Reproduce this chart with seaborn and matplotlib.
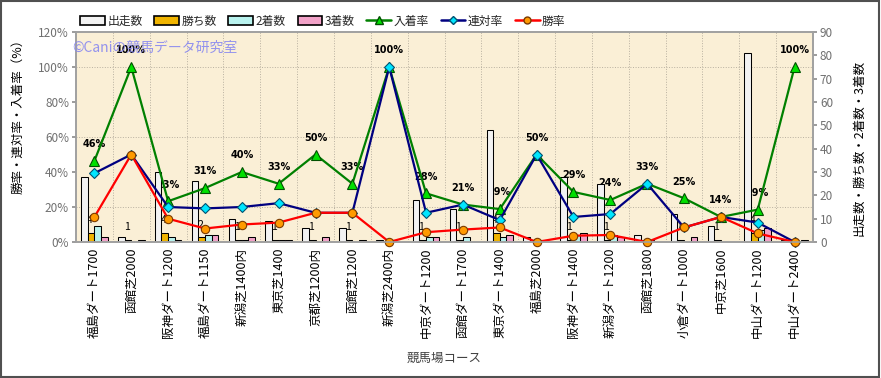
import numpy as np
import pandas as pd
import matplotlib
matplotlib.use("Agg")
import matplotlib.pyplot as plt
import seaborn as sns
from matplotlib.patches import Patch, Rectangle
from matplotlib.lines import Line2D
from matplotlib.ticker import MultipleLocator, FixedLocator

courses = ["福島ダート1700", "函館芝2000", "阪神ダート1200", "福島ダート1150", "新潟芝1400内",
           "東京芝1400", "京都芝1200内", "函館芝1200", "新潟芝2400内", "中京ダート1200",
           "函館ダート1700", "東京ダート1400", "福島芝2000", "阪神ダート1400", "新潟ダート1200",
           "函館芝1800", "小倉ダート1000", "中京芝1600", "中山ダート1200", "中山ダート2400"]

starts = [28, 2, 30, 26, 10, 9, 6, 6, 1, 18, 14, 48, 2, 28, 25, 3, 12, 7, 81, 1]
wins   = [4, 1, 4, 2, 1, 1, 1, 1, 0, 1, 1, 4, 0, 1, 1, 0, 1, 1, 4, 0]
second = [7, 0, 2, 3, 1, 1, 0, 0, 1, 2, 2, 2, 1, 3, 3, 1, 0, 0, 5, 0]
third  = [2, 1, 1, 3, 2, 1, 2, 1, 0, 2, 0, 3, 0, 4, 2, 0, 2, 0, 6, 1]

win_rate  = [14.3, 50.0, 13.3, 7.7, 10.0, 11.1, 16.7, 16.7, 0.0, 5.6,
             7.1, 8.3, 0.0, 3.6, 4.0, 0.0, 8.3, 14.3, 4.9, 0.0]
rentai    = [39.3, 50.0, 20.0, 19.2, 20.0, 22.2, 16.7, 16.7, 100.0, 16.7,
             21.4, 12.5, 50.0, 14.3, 16.0, 33.3, 8.3, 14.3, 11.1, 0.0]
nyuchaku  = [46.4, 100.0, 23.3, 30.8, 40.0, 33.3, 50.0, 33.3, 100.0, 27.8,
             21.4, 18.8, 50.0, 28.6, 24.0, 33.3, 25.0, 14.3, 18.5, 100.0]

bar_names = ["出走数", "勝ち数", "2着数", "3着数"]
line_names = ["入着率", "連対率", "勝率"]

left_ticks = [0, 20, 40, 60, 80, 100, 120]
right_ticks = [0, 10, 20, 30, 40, 50, 60, 70, 80, 90]

bar_colors = ["#F2F2F2", "#F0B400", "#B8F2EE", "#F2A2C8"]
bg = "#FAEFD6"

sns.set_theme(style="white")
plt.rcParams["font.family"] = ["Noto Sans CJK JP", "DejaVu Sans"]

fig = plt.figure(figsize=(8.81, 3.78), dpi=100)
fig.patch.set_facecolor("white")
ax1 = fig.add_axes([76 / 881, 1 - 242 / 378, 737 / 881, 210 / 378])
ax2 = ax1.twinx()

df = pd.DataFrame({
    "course": courses * 4,
    "series": sum([[n] * len(courses) for n in bar_names], []),
    "value": starts + wins + second + third,
})

sns.barplot(data=df, x="course", y="value", hue="series", order=courses,
            hue_order=bar_names, palette=bar_colors, width=0.72, saturation=1,
            edgecolor="black", linewidth=0.75, errorbar=None, legend=False,
            ax=ax2, zorder=2)

specs = [
    (nyuchaku, "#008000", "^", "#00E000", "#005000", 7),
    (rentai, "#000080", "D", "#00E6FF", "#005070", 5),
    (win_rate, "#FF0000", "o", "#FF9A00", "#7A3A00", 6),
]
for vals, c, m, mfc, mec, ms in specs:
    sns.pointplot(x=courses, y=vals, order=courses, color=c, markers=m,
                  linestyles="-", errorbar=None, ax=ax1,
                  markerfacecolor=mfc, markeredgecolor=mec, markersize=ms,
                  linewidth=1.6, markeredgewidth=0.8, clip_on=False)

# axes limits / ticks
ax1.set_ylim(0, 120)
ax2.set_ylim(0, 90)
ax1.set_xlim(-0.5, len(courses) - 0.5)
ax1.set_yticks(left_ticks)
ax1.set_yticklabels([f"{v}%" for v in left_ticks])
ax2.set_yticks(right_ticks)
ax1.set_xticks(range(len(courses)))
ax1.set_xticklabels(courses, rotation=90, fontsize=9, color="black")
ax1.tick_params(axis="x", length=0, pad=4)
ax1.tick_params(axis="y", labelsize=8.5, labelcolor="#707070", length=3, color="#909090", pad=2)
ax2.tick_params(axis="y", labelsize=8.5, labelcolor="#707070", length=3, color="#909090", pad=2)
for a in (ax1, ax2):
    a.set_xlabel("")
    a.set_ylabel("")

# layering: lines above bars, background/grid on ax2
ax1.set_zorder(ax2.get_zorder() + 1)
ax1.patch.set_visible(False)
ax2.patch.set_visible(True)
ax2.patch.set_facecolor(bg)
ax2.xaxis.set_visible(True)
ax2.tick_params(axis="x", which="both", bottom=False, top=False,
                labelbottom=False, labeltop=False)
ax2.yaxis.set_minor_locator(MultipleLocator(15))
ax2.xaxis.set_minor_locator(FixedLocator(np.arange(0.5, len(courses) - 1, 1)))
ax2.tick_params(axis="y", which="minor", length=0)
ax2.set_axisbelow(True)
ax2.grid(False)
ax1.grid(False)
ax2.grid(which="minor", axis="both", color="#B8B0A0", linestyle=":", linewidth=0.7)

for a in (ax1, ax2):
    for s in a.spines.values():
        s.set_color("#A0A0A0")
        s.set_linewidth(1.2)

# percentage labels above the 入着率 points (drawn beneath bars)
for i, v in enumerate(nyuchaku):
    ax2.annotate(f"{int(v + 0.5)}%", xy=(i, v), xycoords=ax1.transData,
                 xytext=(0, 12), textcoords="offset points", ha="center",
                 va="center", fontsize=7, fontweight="bold", color="black",
                 zorder=1.5, family=["DejaVu Sans"])

# win count labels above the 勝ち数 bars
for bar, w in zip(ax2.containers[1], wins):
    if w > 0:
        ax2.annotate(f"{w}", xy=(bar.get_x() + bar.get_width() / 2 - 0.04, bar.get_height()),
                     xytext=(0, 9), textcoords="offset points", ha="center",
                     va="center", fontsize=7.5, color="black", zorder=1.5)

# axis titles
fig.text(18 / 881, 1 - 113 / 378, "勝率・連対率・入着率（%）", rotation=90,
         ha="center", va="center", fontsize=9, color="black")
fig.text(859 / 881, 1 - 148 / 378, "出走数・勝ち数・2着数・3着数", rotation=90,
         ha="center", va="center", fontsize=9, color="black")
fig.text(444 / 881, 1 - 358 / 378, "競馬場コース", ha="center", va="center",
         fontsize=9, color="#404040")

# watermark
fig.text(72 / 881, 1 - 48 / 378, "©Caniの競馬データ研究室", ha="left", va="center",
         fontsize=10, color="#8888F0", alpha=0.9, zorder=10)

# legend
handles = [Patch(facecolor=c, edgecolor="black", linewidth=1.2) for c in bar_colors]
for vals, c, m, mfc, mec, ms in specs:
    handles.append(Line2D([], [], color=c, marker=m, markerfacecolor=mfc,
                          markeredgecolor=mec, markersize=ms - 1, linewidth=1.8))
fig.legend(handles, bar_names + line_names, loc="center left",
           bbox_to_anchor=(80 / 881, 1 - 21 / 378), ncol=7, frameon=False,
           fontsize=8.5, handlelength=2.1, handletextpad=0.2, columnspacing=1.0,
           numpoints=1, borderaxespad=0, borderpad=0)

# outer frame
fig.add_artist(Rectangle((1 / 881, 1 / 378), 878 / 881, 376 / 378,
                         transform=fig.transFigure, fill=False,
                         edgecolor="#505050", linewidth=1.5))

fig.savefig("out.png", dpi=100)
